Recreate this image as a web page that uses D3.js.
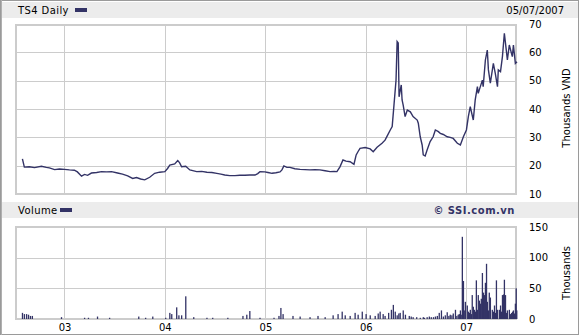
<!DOCTYPE html>
<html>
<head>
<meta charset="utf-8">
<script src="https://cdn.jsdelivr.net/npm/d3@7"></script>
<style>
  body { margin: 0; background: #fff; }
  svg { display: block; font-family: "DejaVu Sans", Verdana, sans-serif; }
</style>
</head>
<body>
<div id="my_dataviz"></div>
<script>
// price (thousands VND)
var priceDates = [
    "2002-08-01", "2002-08-08", "2002-08-26", "2002-09-14", "2002-10-09", "2002-10-27", "2002-11-07", "2002-11-26",
    "2002-12-14", "2003-01-01", "2003-01-19", "2003-02-06", "2003-02-17", "2003-03-04", "2003-03-15", "2003-03-26",
    "2003-04-09", "2003-04-28", "2003-05-16", "2003-06-03", "2003-06-21", "2003-07-13", "2003-07-31", "2003-08-19",
    "2003-09-06", "2003-09-20", "2003-10-05", "2003-10-20", "2003-11-07", "2003-11-25", "2003-12-13", "2004-01-01",
    "2004-01-11", "2004-01-19", "2004-02-06", "2004-02-17", "2004-02-24", "2004-03-02", "2004-03-17", "2004-04-01",
    "2004-04-26", "2004-05-14", "2004-06-02", "2004-06-20", "2004-07-08", "2004-07-23", "2004-08-06", "2004-08-24",
    "2004-09-12", "2004-09-30", "2004-10-18", "2004-11-05", "2004-11-24", "2004-12-04", "2004-12-12", "2004-12-30",
    "2005-01-10", "2005-01-25", "2005-02-08", "2005-02-23", "2005-03-02", "2005-03-09", "2005-03-20", "2005-03-31",
    "2005-04-18", "2005-05-07", "2005-05-25", "2005-06-12", "2005-06-30", "2005-07-18", "2005-08-06", "2005-08-24",
    "2005-09-08", "2005-09-18", "2005-09-29", "2005-10-10", "2005-10-21", "2005-11-05", "2005-11-19", "2005-11-27",
    "2005-12-04", "2005-12-11", "2005-12-30", "2006-01-17", "2006-01-28", "2006-02-11", "2006-03-01", "2006-03-12",
    "2006-03-20", "2006-03-31", "2006-04-07", "2006-04-14", "2006-04-21", "2006-04-25", "2006-04-29", "2006-05-02",
    "2006-05-10", "2006-05-13", "2006-05-17", "2006-05-24", "2006-06-01", "2006-06-12", "2006-06-22", "2006-07-07",
    "2006-07-11", "2006-07-18", "2006-07-25", "2006-07-29", "2006-08-05", "2006-08-12", "2006-08-23", "2006-09-03",
    "2006-09-11", "2006-09-22", "2006-09-29", "2006-10-10", "2006-10-24", "2006-11-04", "2006-11-15", "2006-11-30",
    "2006-12-11", "2006-12-22", "2007-01-02", "2007-01-09", "2007-01-16", "2007-01-27", "2007-02-03", "2007-02-11",
    "2007-02-14", "2007-03-01", "2007-03-04", "2007-03-12", "2007-03-19", "2007-03-23", "2007-03-30", "2007-04-10",
    "2007-04-17", "2007-04-25", "2007-04-28", "2007-05-06", "2007-05-13", "2007-05-17", "2007-05-20", "2007-05-27",
    "2007-05-31", "2007-06-07", "2007-06-18", "2007-06-22", "2007-06-29", "2007-07-05"
];
var priceValues = [
    22.4, 19.5, 19.6, 19.3, 19.8, 19.4, 19.2, 18.6,
    18.8, 18.7, 18.5, 18.4, 17.8, 16.3, 16.9, 16.6,
    17.4, 17.6, 17.9, 17.8, 17.9, 17.4, 17.0, 16.4,
    15.5, 15.8, 15.3, 15.0, 15.9, 17.3, 17.7, 17.9,
    19.0, 20.2, 20.6, 21.8, 21.0, 19.6, 19.8, 18.5,
    17.9, 18.0, 17.7, 17.6, 17.3, 17.0, 16.7, 16.5,
    16.5, 16.6, 16.6, 16.7, 16.7, 17.2, 17.9, 17.8,
    17.6, 17.3, 17.5, 17.8, 18.5, 19.9, 19.4, 19.4,
    18.9, 18.7, 18.6, 18.5, 18.6, 18.5, 18.2, 17.9,
    18.0, 17.9, 19.6, 22.0, 21.6, 21.4, 20.5, 23.8,
    25.0, 26.1, 26.4, 25.9, 24.9, 26.5, 27.9, 29.0,
    30.5, 32.6, 33.8, 42.0, 50.2, 63.8, 63.3, 44.3,
    48.5, 43.2, 41.4, 37.3, 39.6, 39.0, 37.3, 36.1,
    35.0, 30.2, 27.3, 23.8, 23.4, 25.5, 28.5, 30.2,
    32.6, 32.0, 31.4, 31.0, 30.2, 30.0, 29.6, 27.9,
    27.3, 30.2, 32.6, 37.3, 40.8, 36.1, 43.2, 47.9,
    45.5, 50.2, 47.9, 57.3, 60.8, 53.8, 49.1, 56.1,
    52.6, 47.9, 53.8, 53.2, 58.5, 63.2, 66.7, 60.8,
    57.3, 62.6, 58.5, 62.6, 56.1, 56.7
];

// volume (thousands)
var volumeDates = [
    "2002-08-01", "2002-08-08", "2002-08-16", "2002-08-23", "2002-08-30", "2002-09-06", "2002-12-21", "2003-03-15",
    "2003-03-29", "2003-05-01", "2003-06-14", "2003-09-28", "2003-10-23", "2003-11-18", "2004-01-04", "2004-01-19",
    "2004-01-26", "2004-02-13", "2004-02-21", "2004-03-02", "2004-03-17", "2004-04-15", "2004-06-02", "2004-06-23",
    "2004-08-17", "2004-10-11", "2004-10-25", "2004-11-05", "2004-12-12", "2005-02-01", "2005-02-19", "2005-02-26",
    "2005-03-06", "2005-04-11", "2005-05-07", "2005-06-12", "2005-07-11", "2005-08-06", "2005-09-04", "2005-09-22",
    "2005-10-07", "2005-10-18", "2005-11-05", "2005-11-23", "2005-12-04", "2005-12-19", "2006-01-02", "2006-01-17",
    "2006-02-04", "2006-02-15", "2006-02-22", "2006-03-05", "2006-03-12", "2006-03-25", "2006-04-04", "2006-04-11",
    "2006-04-18", "2006-04-25", "2006-05-01", "2006-05-06", "2006-05-17", "2006-05-25", "2006-06-08", "2006-06-15",
    "2006-06-22", "2006-07-05", "2006-07-18", "2006-07-29", "2006-08-02", "2006-08-12", "2006-08-20", "2006-08-27",
    "2006-09-04", "2006-09-11", "2006-09-18", "2006-09-25", "2006-10-03", "2006-10-10", "2006-10-17", "2006-10-24",
    "2006-10-30", "2006-11-04", "2006-11-10", "2006-11-15", "2006-11-23", "2006-11-28", "2006-12-03", "2006-12-07",
    "2006-12-11", "2006-12-14", "2006-12-18", "2006-12-22", "2006-12-25", "2006-12-29", "2007-01-05", "2007-01-09",
    "2007-01-13", "2007-01-16", "2007-01-20", "2007-01-23", "2007-01-27", "2007-01-31", "2007-02-04", "2007-02-07",
    "2007-02-11", "2007-02-14", "2007-02-18", "2007-02-22", "2007-02-25", "2007-03-01", "2007-03-05", "2007-03-08",
    "2007-03-12", "2007-03-16", "2007-03-19", "2007-03-23", "2007-03-26", "2007-03-30", "2007-04-06", "2007-04-10",
    "2007-04-14", "2007-04-18", "2007-04-21", "2007-04-25", "2007-05-02", "2007-05-06", "2007-05-09", "2007-05-13",
    "2007-05-17", "2007-05-20", "2007-05-24", "2007-05-27", "2007-05-31", "2007-06-07", "2007-06-11", "2007-06-15",
    "2007-06-19", "2007-06-22", "2007-06-26", "2007-06-29", "2007-07-02", "2007-07-04"
];
var volumeValues = [
    10, 8, 8, 7, 5, 5, 3, 2,
    2, 4, 2, 4, 2, 4, 2, 10,
    8, 19, 6, 6, 37, 3, 2, 2,
    2, 5, 7, 13, 2, 2, 5, 18,
    8, 5, 4, 3, 5, 3, 6, 8,
    12, 6, 5, 10, 7, 12, 8, 6,
    5, 9, 12, 8, 5, 10, 15, 23,
    12, 6, 9, 10, 14, 7, 5, 4,
    3, 3, 2, 3, 2, 3, 4, 3,
    3, 4, 5, 10, 14, 4, 6, 11,
    5, 7, 6, 9, 15, 5, 7, 8,
    14, 7, 134, 62, 14, 28, 22, 12,
    10, 15, 8, 39, 20, 15, 12, 63,
    15, 39, 30, 25, 33, 75, 43, 39,
    59, 90, 28, 14, 43, 35, 15, 12,
    22, 10, 63, 15, 15, 22, 12, 39,
    40, 64, 39, 10, 14, 15, 8, 10,
    12, 14, 9, 25, 50, 14
];

var priceTicks = [10, 20, 30, 40, 50, 60, 70];
var volumeTicks = [0, 50, 100, 150];

var navy = "#333366";
var grid = "#cccccc";

var W = 579, H = 335;
var svg = d3.select("#my_dataviz")
    .append("svg")
    .attr("width", W)
    .attr("height", H);

var parse = d3.timeParse("%Y-%m-%d");

var x = d3.scaleTime()
    .domain([parse("2002-07-05"), parse("2007-07-05")])
    .range([15, 517]);

var yP = d3.scaleLinear().domain([10, 70]).range([194, 24]);
var yV = d3.scaleLinear().domain([0, 150]).range([319, 227]);

// outer frame
svg.append("rect")
    .attr("x", 0.5).attr("y", 0.5)
    .attr("width", W - 1).attr("height", H - 1)
    .attr("fill", "#fff")
    .attr("stroke", "#9a9a9a");
svg.append("line")
    .attr("x1", 1.5).attr("x2", 1.5).attr("y1", 0).attr("y2", H)
    .attr("stroke", "#b0b0b0");

// header bands
function band(y0, h) {
    svg.append("rect")
        .attr("x", 2).attr("y", y0)
        .attr("width", W - 3).attr("height", h)
        .attr("fill", "#ececec");
}
band(2, 16);
band(202, 16);

svg.append("text").attr("x", 18).attr("y", 14)
    .attr("font-size", 10).attr("letter-spacing", 0.4)
    .text("TS4 Daily");
svg.append("rect").attr("x", 75).attr("y", 8).attr("width", 12).attr("height", 4).attr("fill", navy);
svg.append("text").attr("x", 564).attr("y", 14)
    .attr("font-size", 10).attr("text-anchor", "end")
    .text("05/07/2007");

svg.append("text").attr("x", 18).attr("y", 214)
    .attr("font-size", 10).attr("letter-spacing", 0.4)
    .text("Volume");
svg.append("rect").attr("x", 60).attr("y", 208).attr("width", 12).attr("height", 4).attr("fill", navy);
svg.append("text").attr("x", 515).attr("y", 214)
    .attr("font-size", 10).attr("font-weight", "bold")
    .attr("letter-spacing", 0.5)
    .attr("text-anchor", "end").attr("fill", navy)
    .text("© SSI.com.vn");

// gridlines for a panel
function panel(y, ticks, top, bottom) {
    var g = svg.append("g");
    g.selectAll(".hg").data(ticks.slice(1, -1)).enter()
        .append("line")
        .attr("x1", 15).attr("x2", 517)
        .attr("y1", function(d) { return Math.round(y(d)) + 0.5; })
        .attr("y2", function(d) { return Math.round(y(d)) + 0.5; })
        .attr("stroke", grid);
    g.selectAll(".vg").data(x.ticks(d3.timeYear)).enter()
        .append("line")
        .attr("x1", function(d) { return Math.round(x(d)) + 0.5; })
        .attr("x2", function(d) { return Math.round(x(d)) + 0.5; })
        .attr("y1", top).attr("y2", bottom)
        .attr("stroke", grid);
    g.append("rect")
        .attr("x", 16).attr("y", top + 1)
        .attr("width", 500).attr("height", bottom - top - 2)
        .attr("fill", "none").attr("stroke", grid).attr("stroke-width", 2);
}
panel(yP, priceTicks, 24, 195);
panel(yV, volumeTicks, 226, 320);

// price line
var price = priceDates.map(function(d, i) {
    return { date: parse(d), value: priceValues[i] };
});
svg.append("path")
    .datum(price)
    .attr("fill", "none")
    .attr("stroke", navy)
    .attr("stroke-width", 1.4)
    .attr("d", d3.line()
        .x(function(d) { return x(d.date); })
        .y(function(d) { return yP(d.value); }));

// volume bars
var volume = volumeDates.map(function(d, i) {
    return { date: parse(d), value: volumeValues[i] };
});
svg.selectAll(".vbar").data(volume).enter()
    .append("rect")
    .attr("class", "vbar")
    .attr("x", function(d) { return x(d.date) - 0.6; })
    .attr("width", 1.3)
    .attr("y", function(d) { return yV(d.value); })
    .attr("height", function(d) { return yV(0) - yV(d.value); })
    .attr("fill", navy);

// axes
function styleAxis(g) {
    g.select(".domain").remove();
    g.selectAll("text").attr("font-size", 10).attr("font-family", "DejaVu Sans").attr("fill", "#000");
}
svg.append("g")
    .attr("transform", "translate(529,0)")
    .call(d3.axisRight(yP).tickValues(priceTicks).tickSize(0).tickPadding(0))
    .call(styleAxis);
svg.append("g")
    .attr("transform", "translate(529,0)")
    .call(d3.axisRight(yV).tickValues(volumeTicks).tickSize(0).tickPadding(0))
    .call(styleAxis);
svg.append("g")
    .attr("transform", "translate(0,324)")
    .call(d3.axisBottom(x).ticks(d3.timeYear).tickFormat(d3.timeFormat("%y")).tickSize(0).tickPadding(0))
    .call(styleAxis);

svg.append("text")
    .attr("transform", "translate(570,108) rotate(-90)")
    .attr("text-anchor", "middle")
    .attr("font-size", 10)
    .text("Thousands VND");
svg.append("text")
    .attr("transform", "translate(570,273) rotate(-90)")
    .attr("text-anchor", "middle")
    .attr("font-size", 10)
    .text("Thousands");
</script>
</body>
</html>
